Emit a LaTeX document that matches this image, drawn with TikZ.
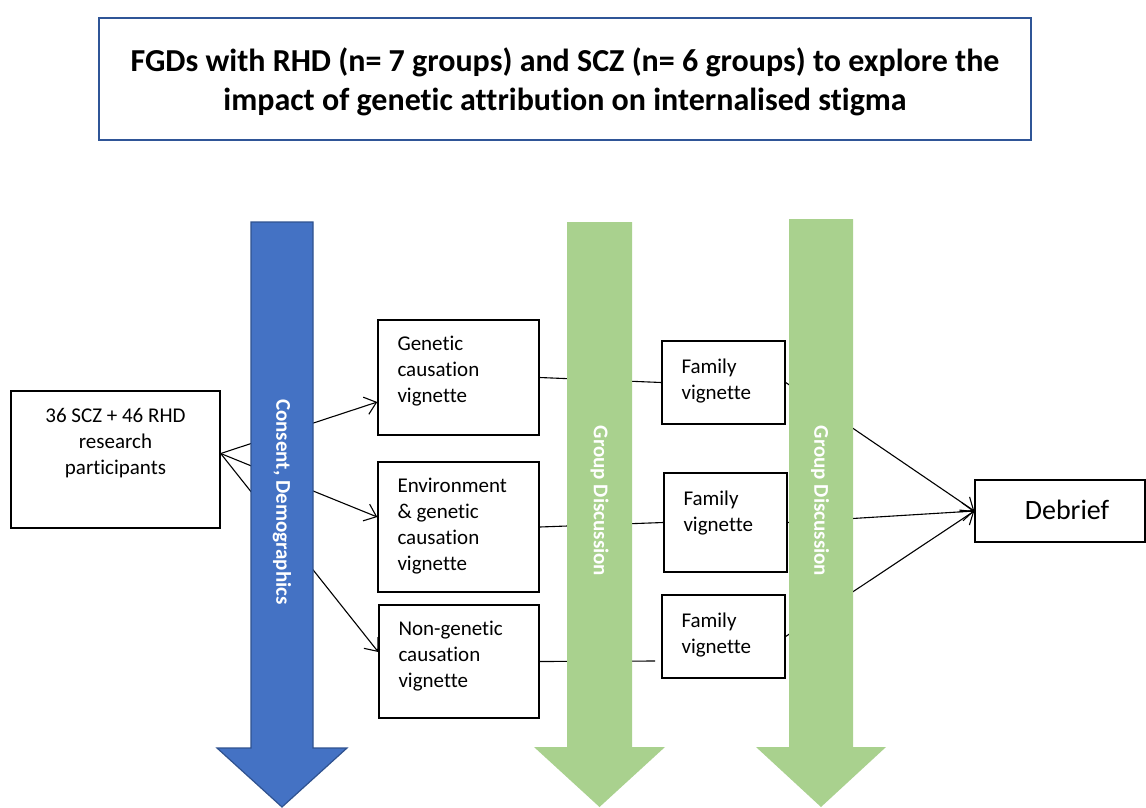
\documentclass[tikz,border=0pt]{standalone}
\usepackage{fontspec}
\setmainfont{Carlito}[Ligatures=NoCommon]
\usetikzlibrary{arrows.meta}

\definecolor{consentblue}{HTML}{4472C4}
\definecolor{consentedge}{HTML}{2F528F}
\definecolor{discgreen}{HTML}{A9D18E}
\definecolor{titleedge}{HTML}{2F5597}

\begin{document}
\begin{tikzpicture}[x=1pt,y=-1pt,>={Straight Barb[length=11pt,width=18pt]},
	box/.style={draw, line width=1.4pt, fill=white, inner sep=0pt},
	boxtext/.style={align=left, inner sep=0pt, font=\fontsize{21}{26}\selectfont},
	bartext/.style={rotate=-90, text=white, font=\bfseries\fontsize{21}{26}\selectfont},
	link/.style={line width=1.1pt}]
			%%%	Help Lines
%			\draw [thin, help lines] (0,0) grid[step=50] (1146,807);
			\useasboundingbox (0,0) rectangle (1146,807);
			%%%	Titolo
			\node [draw=titleedge, line width=2pt, minimum width=932, minimum height=122,
			label={[align=center, font=\bfseries\fontsize{32}{39}\selectfont, anchor=center, yshift=-3]center:{FGDs with RHD (n= 7 groups) and SCZ (n= 6 groups) to explore the\\
			impact of genetic attribution on internalised stigma}}]
			(title) at (565,79) {};
			%%%	Caselle
			\node [box, minimum width=209, minimum height=137,
			label={[boxtext, align=center, anchor=north, yshift=-18]north:{36 SCZ + 46 RHD\\research\\participants}}]
			(part) at (115.5,459.5) {};
			\node [box, minimum width=161, minimum height=115,
			label={[boxtext, anchor=north west, xshift=20, yshift=-17]north west:{Genetic\\causation\\vignette}}]
			(gen) at (458.5,377.5) {};
			\node [box, minimum width=161, minimum height=130,
			label={[boxtext, anchor=north west, xshift=20, yshift=-17]north west:{Environment\\\& genetic\\causation\\vignette}}]
			(env) at (458.5,527) {};
			\node [box, minimum width=160, minimum height=113,
			label={[boxtext, anchor=north west, xshift=20, yshift=-17]north west:{Non-genetic\\causation\\vignette}}]
			(nongen) at (459,661.5) {};
			\node [box, minimum width=123, minimum height=83,
			label={[boxtext, anchor=north west, xshift=20, yshift=-18]north west:{Family\\vignette}}]
			(fam1) at (723.5,382.5) {};
			\node [box, minimum width=123, minimum height=99,
			label={[boxtext, anchor=north west, xshift=20, yshift=-18]north west:{Family\\vignette}}]
			(fam2) at (725.5,522.5) {};
			\node [box, minimum width=123, minimum height=83,
			label={[boxtext, anchor=north west, xshift=20, yshift=-18]north west:{Family\\vignette}}]
			(fam3) at (723.5,636.5) {};
			\node [box, minimum width=170, minimum height=62,
			label={[font=\fontsize{28}{34}\selectfont, anchor=center, xshift=7, yshift=1]center:{Debrief}}]
			(debrief) at (1060,511) {};
			\coordinate (famgap) at (655,661);
			%%%	Collegamenti
			\draw [link, ->] ([yshift=6]part.east) -- ([yshift=-24.5]gen.west);
			\draw [link, ->] ([yshift=6]part.east) -- ([yshift=10]env.west);
			\draw [link, ->] ([yshift=6]part.east) -- ([yshift=9.5]nongen.west);
			\draw [link] (gen.east) -- (fam1.west);
			\draw [link] (env.east) -- (fam2.west);
			\draw [link] (nongen.east) -- (famgap);
			\draw [link, ->] (fam1.east) -- (debrief.west);
			\draw [link, ->] (fam2.east) -- (debrief.west);
			\draw [link, ->] (fam3.east) -- (debrief.west);
			%%%	Frecce grandi
			\draw [fill=consentblue, draw=consentedge, line width=1.2pt]
			(251,222) -- (313,222) -- (313,748) -- (347,748) -- (282,807) -- (217,748) -- (251,748) -- cycle;
			\fill [discgreen]
			(567,222) -- (632,222) -- (632,747) -- (665,747) -- (599.5,807) -- (534,747) -- (567,747) -- cycle;
			\fill [discgreen]
			(789,219) -- (853,219) -- (853,747) -- (886,747) -- (821,807) -- (756,747) -- (789,747) -- cycle;
			\node [bartext] (consent) at (282,502) {Consent, Demographics};
			\node [bartext] (disc1) at (599.5,501) {Group Discussion};
			\node [bartext] (disc2) at (820,501) {Group Discussion};
		\end{tikzpicture}
\end{document}
